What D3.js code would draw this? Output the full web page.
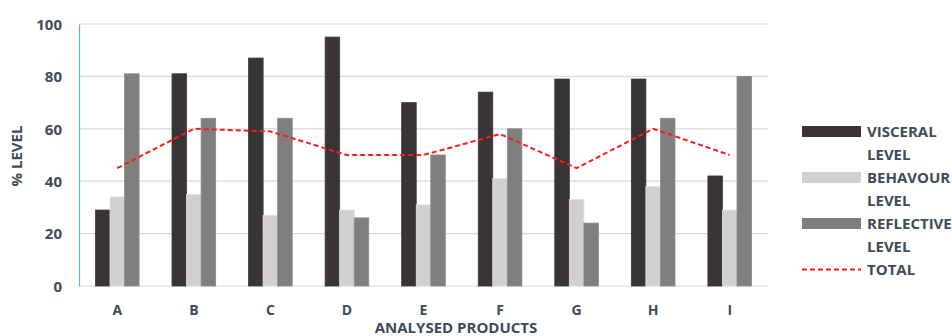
<!DOCTYPE html>
<html>
<head>
<meta charset="utf-8">
<script src="https://cdn.jsdelivr.net/npm/d3@7"></script>
<style>
  html, body { margin: 0; padding: 0; background: #fff; }
  svg text { font-family: "Open Sans", "Liberation Sans", sans-serif; fill: #404a58; font-weight: 700; }
</style>
</head>
<body>
<svg id="chart" width="952" height="336"></svg>
<script>
// Products and per-level scores (%)
const categories = ["A", "B", "C", "D", "E", "F", "G", "H", "I"];
const visceral   = [29, 81, 87, 95, 70, 74, 79, 79, 42];
const behaviour  = [34, 35, 27, 29, 31, 41, 33, 38, 29];
const reflective = [81, 64, 64, 26, 50, 60, 24, 64, 80];
const total      = [45, 60, 59, 50, 50, 58, 45, 60, 50];
const yTicks     = [0, 20, 40, 60, 80, 100];

const seriesNames = ["VISCERAL LEVEL", "BEHAVOUR LEVEL", "REFLECTIVE LEVEL"];
const seriesData = [visceral, behaviour, reflective];
const seriesColors = ["#393534", "#d1d0cf", "#7f7f7f"];

const svg = d3.select("#chart");
const m = { left: 79, right: 768, top: 24, bottom: 286 };

const x = d3.scaleBand().domain(categories).range([m.left, m.right]).paddingInner(0.43).paddingOuter(0.215);
const xs = d3.scaleBand().domain(d3.range(3)).range([0, x.bandwidth()]);
const y = d3.scaleLinear().domain([0, 100]).range([m.bottom, m.top]);

// Horizontal gridlines
svg.append("g").selectAll("line").data(yTicks).join("line")
  .attr("x1", m.left).attr("x2", m.right)
  .attr("y1", d => y(d)).attr("y2", d => y(d))
  .attr("stroke", "#d9d9d9").attr("stroke-width", 1.2);

// Y axis labels
const yAxis = d3.axisLeft(y).tickValues(yTicks).tickSize(0).tickPadding(17);
const gy = svg.append("g").attr("transform", `translate(${m.left},0)`).call(yAxis);
gy.select(".domain").attr("stroke", "#5bb4e0").attr("stroke-width", 1.2);
gy.selectAll("text").attr("font-size", 15).attr("dy", "0.35em");

// X axis labels
const xAxis = d3.axisBottom(x).tickSize(0).tickPadding(17);
const gx = svg.append("g").attr("transform", `translate(0,${m.bottom})`).call(xAxis);
gx.select(".domain").remove();
gx.selectAll("text").attr("font-size", 14).attr("dy", "0.35em").attr("y", 24);

// Bars
seriesData.forEach((vals, si) => {
  svg.append("g").selectAll("rect").data(vals).join("rect")
    .attr("x", (d, i) => x(categories[i]) + xs(si))
    .attr("y", d => y(d))
    .attr("width", xs.bandwidth())
    .attr("height", d => y(0) - y(d))
    .attr("fill", seriesColors[si])
    .attr("stroke", d3.color(seriesColors[si]).brighter(0.25))
    .attr("stroke-width", 0.8);
});

// Total dashed line
const line = d3.line().x((d, i) => x(categories[i]) + x.bandwidth() / 2).y(d => y(d));
svg.append("path").datum(total)
  .attr("d", line)
  .attr("fill", "none")
  .attr("stroke", "#ff1a1a")
  .attr("stroke-width", 2)
  .attr("stroke-dasharray", "5,3");

// Axis titles
svg.append("text")
  .attr("transform", `translate(22,156) rotate(-90)`)
  .attr("text-anchor", "middle")
  .attr("font-size", 15)
  .text("% LEVEL");
svg.append("text")
  .attr("x", 456).attr("y", 333)
  .attr("text-anchor", "middle")
  .attr("font-size", 15)
  .text("ANALYSED PRODUCTS");

// Legend
const legend = svg.append("g");
const lineH = 23;
seriesNames.forEach((name, i) => {
  const cy = 131.5 + i * 2 * lineH;
  legend.append("rect")
    .attr("x", 802).attr("y", cy - 5.5).attr("width", 59).attr("height", 11)
    .attr("fill", seriesColors[i]);
  const words = name.split(" ");
  words.forEach((w, j) => {
    legend.append("text")
      .attr("x", 867).attr("y", cy + j * lineH).attr("dy", "0.35em")
      .attr("font-size", 15).text(w);
  });
});
const ty = 131.5 + 6 * lineH;
legend.append("line")
  .attr("x1", 802).attr("x2", 861).attr("y1", ty).attr("y2", ty)
  .attr("stroke", "#ff1a1a").attr("stroke-width", 2).attr("stroke-dasharray", "5,3");
legend.append("text")
  .attr("x", 867).attr("y", ty).attr("dy", "0.35em")
  .attr("font-size", 15).text("TOTAL");
</script>
</body>
</html>
